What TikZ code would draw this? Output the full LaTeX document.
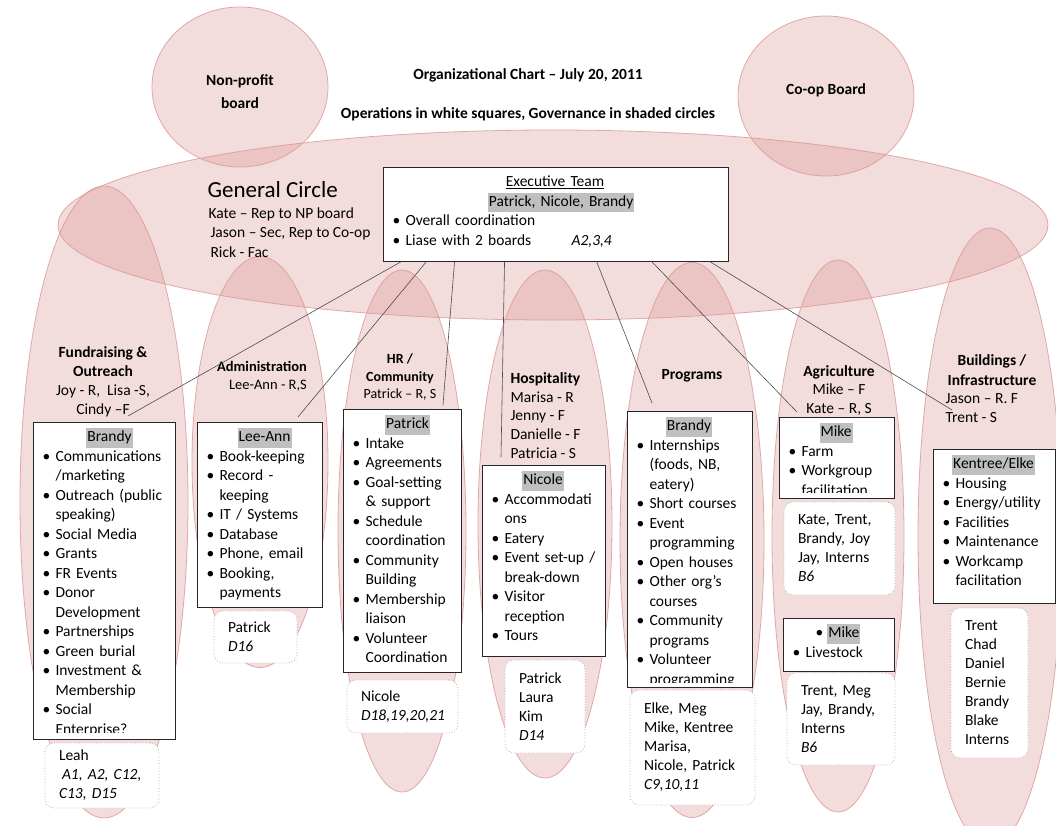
\documentclass[tikz,border=0pt]{standalone}
\usepackage{fontspec}
\setmainfont{Carlito}
\usetikzlibrary{shapes.geometric,calc}

\definecolor{govline}{RGB}{217,150,148}
\definecolor{govfill}{RGB}{217,150,148}
\definecolor{hlgray}{RGB}{191,191,191}

\newcommand{\bodyfont}{\fontsize{15.5}{19.5}\selectfont}
\newcommand{\hl}[1]{{\fboxsep=0pt\colorbox{hlgray}{\strut\hspace{1pt}#1\hspace{1pt}}}}
\newcommand{\hd}[2][0pt]{{\centering\hspace*{#1}\hl{#2}\par}}
\newcommand{\itm}{\par\noindent\hangindent=23pt\hangafter=1\hbox to 23pt{\hskip 10pt\textbullet\hss}}

\begin{document}
\begin{tikzpicture}[x=1pt,y=-1pt,
  gov/.style={ellipse, draw=govline, draw opacity=0.8, fill=govfill, fill opacity=0.33, line width=0.8pt, inner sep=0pt},
  opbox/.style={draw=black!85, fill=white, line width=0.9pt, inner sep=0pt},
  optext/.style={anchor=north west, inner xsep=0pt, inner ysep=6.5pt, outer sep=0pt, font=\bodyfont},
  helpbox/.style={draw=black!30, dotted, line width=0.8pt, fill=white, rounded corners=9pt, inner xsep=14pt, inner ysep=0pt, align=left, font=\fontsize{15.5}{19}\selectfont},
  link/.style={draw=black!70, line width=0.6pt},
  govtitle/.style={font=\fontsize{15.5}{19}\selectfont\bfseries, align=center},
  names/.style={font=\fontsize{15.5}{19}\selectfont, align=center}]
\useasboundingbox (0,0) rectangle (1056,826);

% governance circles
\node[gov, minimum width=168, minimum height=632] (frc) at (104,502) {};
\node[gov, minimum width=136, minimum height=411] (adc) at (260,462) {};
\node[gov, minimum width=128, minimum height=522] (hrc) at (402,531) {};
\node[gov, minimum width=134, minimum height=508] (hoc) at (545,524) {};
\node[gov, minimum width=144, minimum height=555] (prc) at (692,540) {};
\node[gov, minimum width=132, minimum height=552] (agc) at (838,536) {};
\node[gov, minimum width=144, minimum height=618] (bdc) at (990,537) {};
\node[gov, minimum width=990, minimum height=190] (gc) at (553,225) {};
\node[gov, minimum width=176, minimum height=160] (np) at (240,87) {};
\node[gov, minimum width=176, minimum height=160] (coop) at (826,96) {};

\node[govtitle] (nptxt) at (240,91.5) {Non-profit\\[4pt]board};
\node[govtitle] (cooptxt) at (826,90) {Co-op Board};
\node[govtitle] (title) at (528,75) {Organizational Chart – July 20, 2011};
\node[govtitle] (subtitle) at (528,114) {Operations in white squares, Governance in shaded circles};

\node[anchor=west, font=\fontsize{23}{27}\selectfont] (gctitle) at (204,190) {General Circle};
\node[anchor=west, align=left, font=\fontsize{15.5}{19.5}\selectfont] (gcnames) at (205,232.5)
  {Kate – Rep to NP board\\\hspace*{2pt}Jason – Sec, Rep to Co-op\\\hspace*{2pt}Rick - Fac};

% executive team
\node[opbox, minimum width=345, minimum height=94] (exec) at (555.5,214) {};
\node[optext, text width=345] (exectxt) at (exec.north west) {%
  {\centering\underline{Executive Team}\strut\par}
  \hd[12pt]{Patrick, Nicole, Brandy}
  \itm Overall coordination
  \itm \hbox to 166pt{Liase with 2 boards\hfil}\textit{A2,3,4}\par};

% circle heads
\node[names] (frhead) at (103,381.5) {\textbf{Fundraising \&}\\\textbf{Outreach}\\Joy - R,~ Lisa -S,\\Cindy –F};
\node[names, font=\fontsize{14.5}{18}\selectfont] (adhead) at (262,376) {\textbf{Administration}\\\hspace*{12pt}Lee-Ann - R,S};
\node[names, font=\fontsize{14}{17.5}\selectfont] (hrhead) at (400,377) {\textbf{HR /}\\\textbf{Community}\\Patrick – R, S};
\node[names, anchor=west, align=left, font=\fontsize{15.5}{18.75}\selectfont] (hohead) at (507,415.5) {\textbf{Hospitality}\\Marisa - R\\Jenny - F\\Danielle - F\\Patricia - S};
\node[names] (prhead) at (692,376) {\textbf{Programs}};
\node[names, font=\fontsize{15.5}{18.5}\selectfont] (aghead) at (839,390.5) {\textbf{Agriculture}\\Mike – F\\Kate – R, S};
\node[names, font=\fontsize{15.5}{20}\selectfont] (bdhead) at (992,370) {\textbf{Buildings /}\\\textbf{Infrastructure}};
\node[names, anchor=west, align=left] (bdnames) at (942,408.5) {Jason – R. F\\Trent - S};

% links from the executive team
\coordinate (frend) at (128,416);
\coordinate (adend) at (298,417);
\coordinate (hrend) at (443,405);
\coordinate (hoend) at (501,457);
\coordinate (prend) at (652,403);
\coordinate (agend) at (797,412);
\coordinate (bdend) at (952,410);
\draw[link] ($(exec.south west)+(19,0)$) -- (frend);
\draw[link] ($(exec.south west)+(44,0)$) -- (adend);
\draw[link] ($(exec.south west)+(72,0)$) -- (hrend);
\draw[link] ($(exec.south west)+(122,0)$) -- (hoend);
\draw[link] ($(exec.south west)+(214,0)$) -- (prend);
\draw[link] ($(exec.south west)+(269,0)$) -- (agend);
\draw[link] ($(exec.south west)+(327,0)$) -- (bdend);

% operations boxes
\node[opbox, minimum width=142, minimum height=317] (frbox) at (104,580.5) {};
\begin{scope}
\clip ($(frbox.south west)+(0,-7)$) rectangle (frbox.north east);
\node[optext, text width=142] (frtxt) at (frbox.north west) {%
  \hd[12pt]{Brandy}
  \itm Communications\newline/marketing
  \itm Outreach (public\newline speaking)
  \itm Social Media
  \itm Grants
  \itm FR Events
  \itm Donor\newline Development
  \itm Partnerships
  \itm Green burial
  \itm Investment \&\newline Membership
  \itm Social\newline Enterprise?\par};
\end{scope}

\node[opbox, minimum width=125, minimum height=185] (adbox) at (259.5,514.5) {};
\node[optext, text width=125] (adtxt) at (adbox.north west) {%
  \hd[11pt]{Lee-Ann}
  \itm Book-keeping
  \itm Record -\newline keeping
  \itm IT / Systems
  \itm Database
  \itm Phone, email
  \itm Booking,\newline payments\par};

\node[opbox, minimum width=118, minimum height=263] (hrbox) at (402,540.5) {};
\node[optext, text width=118] (hrtxt) at (hrbox.north west) {%
  \hd[12pt]{Patrick}
  \itm Intake
  \itm Agreements
  \itm Goal-setting\newline\& support
  \itm Schedule\newline coordination
  \itm Community\newline Building
  \itm Membership\newline liaison
  \itm Volunteer\newline Coordination\par};

\node[opbox, minimum width=123, minimum height=191] (hobox) at (543.5,560.5) {};
\node[optext, text width=123] (hotxt) at (hobox.north west) {%
  \hd{Nicole}
  \itm Accommodati\newline ons
  \itm Eatery
  \itm Event set-up /\newline break-down
  \itm Visitor\newline reception
  \itm Tours\par};

\node[opbox, minimum width=125, minimum height=276] (prbox) at (689.5,549) {};
\begin{scope}
\clip ($(prbox.south west)+(0,-5)$) rectangle (prbox.north east);
\node[optext, text width=125] (prtxt) at (prbox.north west) {%
  \hd{Brandy}
  \itm Internships\newline (foods, NB,\newline eatery)
  \itm Short courses
  \itm Event\newline programming
  \itm Open houses
  \itm Other org’s\newline courses
  \itm Community\newline programs
  \itm Volunteer\newline programming\par};
\end{scope}

\node[opbox, minimum width=115, minimum height=81] (ag1box) at (836.5,457.5) {};
\begin{scope}
\clip ($(ag1box.south west)+(0,-6)$) rectangle (ag1box.north east);
\node[optext, text width=115] (ag1txt) at (ag1box.north west) {%
  \hd{Mike}
  \itm Farm
  \itm Workgroup\newline facilitation\par};
\end{scope}

\node[opbox, minimum width=111, minimum height=53] (ag2box) at (838.5,644.5) {};
\node[optext, text width=111] (ag2txt) at (ag2box.north west) {%
  {\centering\textbullet\hspace{4pt}\hl{Mike}\par}
  \itm Livestock\par};

\node[opbox, minimum width=122, minimum height=154] (bdbox) at (994,526) {};
\node[optext, text width=122] (bdtxt) at (bdbox.north west) {%
  \hd{Kentree/Elke}
  \itm Housing
  \itm Energy/utility
  \itm Facilities
  \itm Maintenance
  \itm Workcamp\newline facilitation\par};

% helpers
\node[helpbox, text width=86, minimum height=65] (frhelp) at (102,775.5) {Leah\\\hspace*{3pt}\textit{A1, A2, C12,}\\\textit{C13, D15}};
\node[helpbox, text width=55, minimum height=52] (adhelp) at (255.5,637) {Patrick\\\textit{D16}};
\node[helpbox, text width=83, minimum height=53] (hrhelp) at (402.5,706.5) {Nicole\\\textit{D18,19,20,21}};
\node[helpbox, text width=52, minimum height=93] (hohelp) at (545,706.5) {Patrick\\Laura\\Kim\\\textit{D14}};
\node[helpbox, text width=97, minimum height=115] (prhelp) at (692.5,747.5) {Elke, Meg\\Mike, Kentree\\Marisa,\\Nicole, Patrick\\\textit{C9,10,11}};
\node[helpbox, text width=83, minimum height=93] (ag1help) at (839.5,548.5) {Kate, Trent,\\Brandy, Joy\\Jay, Interns\\\textit{B6}};
\node[helpbox, text width=80, minimum height=92] (ag2help) at (841,719) {Trent, Meg\\Jay, Brandy,\\Interns\\\textit{B6}};
\node[helpbox, text width=49, minimum height=150] (bdhelp) at (989.5,683) {Trent\\Chad\\Daniel\\Bernie\\Brandy\\Blake\\Interns};
\end{tikzpicture}
\end{document}
